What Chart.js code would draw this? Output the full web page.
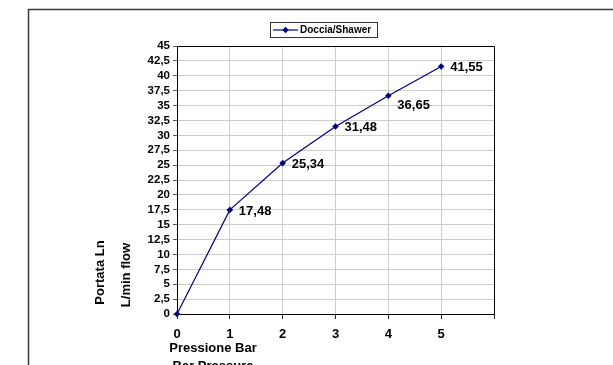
<!DOCTYPE html>
<html>
<head>
<meta charset="utf-8">
<script src="https://cdn.jsdelivr.net/npm/chart.js@4/dist/chart.umd.min.js"></script>
<style>
  html, body { margin: 0; padding: 0; background: #fff; }
  canvas { display: block; }
</style>
</head>
<body>
<canvas id="c" width="613" height="365"></canvas>
<script>
// ---- Data ----
const pressures = [0, 1, 2, 3, 4, 5];
const flows = [0, 17.48, 25.34, 31.48, 36.65, 41.55];
const seriesName = 'Doccia/Shawer';
const yTitleLines = ['Portata Ln', 'L/min flow'];
const xTitleLines = ['Pressione Bar', 'Bar Pressure'];

const FONT = "'Liberation Sans', Arial, Helvetica, sans-serif";
const NAVY = '#000080';
const fmt = v => String(v).replace('.', ',');

const decorPlugin = {
  id: 'decor',
  beforeDraw(chart) {
    const ctx = chart.ctx;
    ctx.save();
    ctx.fillStyle = '#fff';
    ctx.fillRect(0, 0, chart.width, chart.height);
    // outer frame
    ctx.strokeStyle = '#3a3a3a';
    ctx.lineWidth = 1.5;
    ctx.beginPath();
    ctx.moveTo(28.5, chart.height + 5);
    ctx.lineTo(28.5, 9.5);
    ctx.lineTo(chart.width + 5, 9.5);
    ctx.stroke();
    ctx.restore();
  },
  afterDraw(chart) {
    const ctx = chart.ctx;
    const a = chart.chartArea;
    ctx.save();
    // top/right plot border
    ctx.strokeStyle = '#000';
    ctx.lineWidth = 1;
    ctx.beginPath();
    ctx.moveTo(a.left, a.top + 0.5);
    ctx.lineTo(a.right + 0.5, a.top + 0.5);
    ctx.lineTo(a.right + 0.5, a.bottom);
    ctx.stroke();

    // axis titles
    ctx.fillStyle = '#000';
    ctx.font = 'bold 13px ' + FONT;
    ctx.textAlign = 'center';
    ctx.textBaseline = 'middle';
    const yPos = [[100.5, 272.5], [126, 275]];
    yTitleLines.forEach((t, i) => {
      ctx.save();
      ctx.translate(yPos[i][0], yPos[i][1]);
      ctx.rotate(-Math.PI / 2);
      ctx.fillText(t, 0, 0);
      ctx.restore();
    });
    const xPos = [[213, 348.5], [213, 366.5]];
    xTitleLines.forEach((t, i) => ctx.fillText(t, xPos[i][0], xPos[i][1]));

    // legend
    const lx = 270.5, ly = 22.5, lw = 107, lh = 15;
    ctx.strokeStyle = '#333';
    ctx.lineWidth = 1;
    ctx.strokeRect(lx, ly, lw, lh);
    const cy = ly + lh / 2;
    ctx.strokeStyle = NAVY;
    ctx.lineWidth = 1.2;
    ctx.beginPath();
    ctx.moveTo(273, cy);
    ctx.lineTo(298, cy);
    ctx.stroke();
    ctx.fillStyle = NAVY;
    ctx.beginPath();
    ctx.moveTo(285.5, cy - 3.2);
    ctx.lineTo(288.7, cy);
    ctx.lineTo(285.5, cy + 3.2);
    ctx.lineTo(282.3, cy);
    ctx.closePath();
    ctx.fill();
    ctx.fillStyle = '#000';
    ctx.font = 'bold 10px ' + FONT;
    ctx.textAlign = 'left';
    ctx.fillText(seriesName, 300, cy + 0.5);
    ctx.restore();
  },
  afterDatasetsDraw(chart, args, opts) {
    const ctx = chart.ctx;
    const meta = chart.getDatasetMeta(0);
    const shift = opts.shiftY || {};
    ctx.save();
    ctx.fillStyle = '#000';
    ctx.font = 'bold 13px ' + FONT;
    ctx.textAlign = 'left';
    ctx.textBaseline = 'middle';
    meta.data.forEach((pt, i) => {
      const v = flows[i];
      if (!v) return;
      ctx.fillText(v.toFixed(2).replace('.', ','), pt.x + 9, pt.y + 1 + (shift[i] || 0));
    });
    ctx.restore();
  }
};

new Chart(document.getElementById('c'), {
  type: 'line',
  data: {
    datasets: [{
      label: seriesName,
      data: pressures.map((p, i) => ({ x: p, y: flows[i] })),
      borderColor: NAVY,
      backgroundColor: NAVY,
      borderWidth: 1.2,
      pointStyle: 'rectRot',
      pointRadius: 3.3,
      pointBorderWidth: 0,
      tension: 0,
      clip: false
    }]
  },
  options: {
    responsive: false,
    animation: false,
    devicePixelRatio: 1,
    layout: { padding: { left: 0, top: 46, right: 119, bottom: 0 } },
    plugins: {
      legend: { display: false },
      tooltip: { enabled: false },
      decor: { shiftY: { 1: 1, 4: 9 } }
    },
    scales: {
      x: {
        type: 'linear',
        min: 0, max: 6,
        afterFit(s) { s.height = 51; },
        ticks: {
          stepSize: 1,
          autoSkip: false,
          maxRotation: 0,
          padding: 8,
          color: '#000',
          font: { family: FONT, size: 13, weight: 'bold' },
          callback: v => (v <= 5 ? String(v) : '')
        },
        grid: { color: '#cccccc', lineWidth: 1, tickLength: 5, tickColor: '#222', drawTicks: true },
        border: { color: '#000', width: 1 }
      },
      y: {
        type: 'linear',
        min: 0, max: 45,
        afterFit(s) { s.width = 177; },
        ticks: {
          stepSize: 2.5,
          autoSkip: false,
          padding: 3,
          color: '#000',
          font: { family: FONT, size: 11.5, weight: 'bold' },
          callback: v => fmt(v)
        },
        grid: { color: '#cccccc', lineWidth: 1, tickLength: 4, tickColor: '#555' },
        border: { color: '#000', width: 1 }
      }
    }
  },
  plugins: [decorPlugin]
});
</script>
</body>
</html>
